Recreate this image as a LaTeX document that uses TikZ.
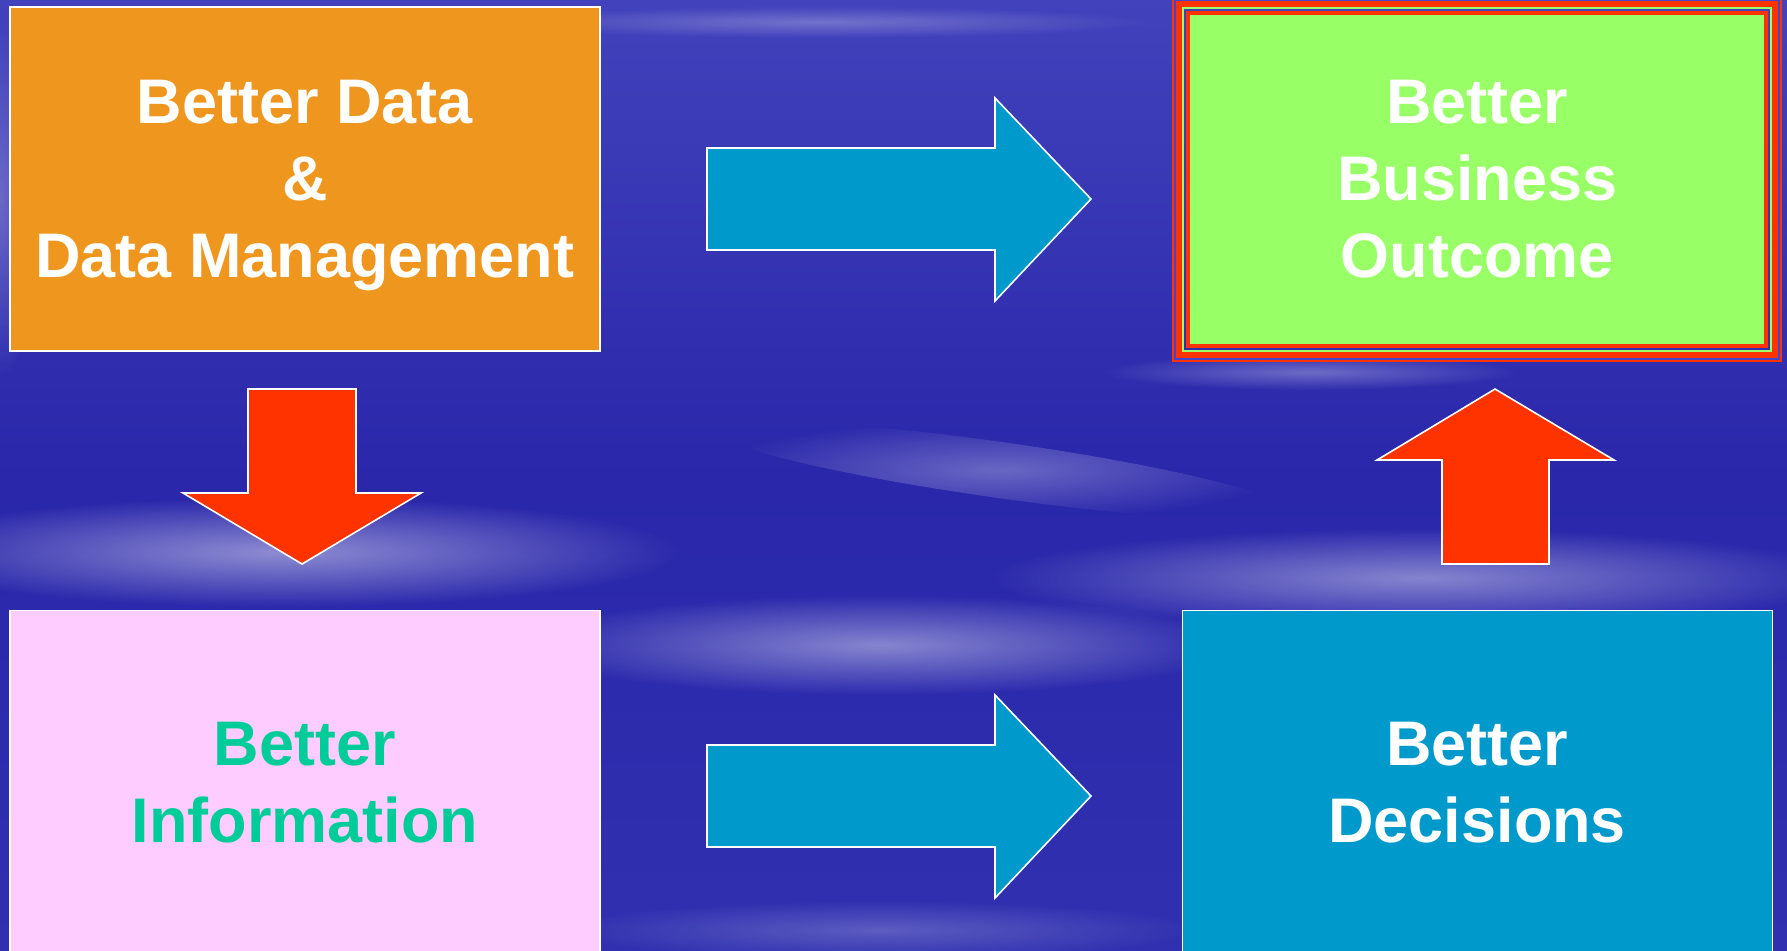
\documentclass[tikz,border=0pt]{standalone}
\usepackage{fontspec}
\setmainfont{Liberation Sans}
\usetikzlibrary{positioning}
\usetikzlibrary{fadings}

\definecolor{skytop}{HTML}{4242BC}
\definecolor{skymid}{HTML}{2A27AA}
\definecolor{skylow}{HTML}{3030B0}
\definecolor{dataorange}{HTML}{EF961F}
\definecolor{infopink}{HTML}{FFCCFF}
\definecolor{infogreen}{HTML}{00CC99}
\definecolor{decideblue}{HTML}{0099CC}
\definecolor{outcomegreen}{HTML}{99FF66}
\definecolor{arrowred}{HTML}{FF3300}
\definecolor{framered}{HTML}{FF3300}
\definecolor{frameblue}{HTML}{4444CC}

\tikzfading[name=cloudfade, inner color=transparent!15, outer color=transparent!100]

\begin{document}
\begin{tikzpicture}[x=0.5pt, y=-0.5pt,
    box/.style={draw=white, line width=0.6pt, minimum width=295pt, minimum height=172pt,
      inner sep=0pt, align=center, text=white,
      font=\fontsize{31.5}{38.5}\selectfont\bfseries},
    redarrow/.style={fill=arrowred, draw=white, line width=0.8pt},
    bluearrow/.style={fill=decideblue, draw=white, line width=0.8pt},
    cloud/.style={fill=white, path fading=cloudfade}]

  \clip (0,0) rectangle (1787,950);

  % sky
  \shade[top color=skytop, bottom color=skylow, middle color=skymid] (0,0) rectangle (1787,950);
  \fill[cloud, fill opacity=0.55] (280,552) ellipse (400 and 55);
  \fill[cloud, fill opacity=0.50] (880,645) ellipse (360 and 50);
  \fill[cloud, fill opacity=0.50] (1420,578) ellipse (430 and 50);
  \fill[cloud, fill opacity=0.35, rotate around={-8:(1000,470)}] (1000,470) ellipse (290 and 28);
  \fill[cloud, fill opacity=0.35] (1310,372) ellipse (210 and 18);
  \fill[cloud, fill opacity=0.30] (820,22) ellipse (330 and 16);
  \fill[cloud, fill opacity=0.25] (880,930) ellipse (320 and 30);
  \fill[cloud, fill opacity=0.30] (0,200) ellipse (40 and 180);

  % boxes
  \node[box, fill=dataorange] (data) at (305,179) {Better Data\\\&\\\smash{Data Management}};
  \node[box, fill=infopink, text=infogreen, below=129pt of data] (info) {Better\\Information};
  \node[box, fill=decideblue, right=290.5pt of info] (decide) {Better\\Decisions};
  \node[box, fill=outcomegreen, draw=framered, line width=2pt, minimum width=289pt,
    minimum height=166.5pt] (outcome) at (decide |- data) {Better\\Business\\Outcome};

  % frame round the outcome
  \draw[outcomegreen, line width=1pt] ([shift={(-3,-3)}]outcome.north west) rectangle ([shift={(3,3)}]outcome.south east);
  \draw[framered, line width=3pt] ([shift={(-7,-7)}]outcome.north west) rectangle ([shift={(7,7)}]outcome.south east);
  \draw[frameblue, line width=1pt] ([shift={(-11,-11)}]outcome.north west) rectangle ([shift={(11,11)}]outcome.south east);
  \draw[framered, line width=1pt] ([shift={(-13,-13)}]outcome.north west) rectangle ([shift={(13,13)}]outcome.south east);

  % arrows
  \foreach \dy in {0,597}
    \draw[bluearrow, shift={(0,\dy)}] (707,148) -- (995,148) -- (995,98) -- (1091,199)
      -- (995,301) -- (995,250) -- (707,250) -- cycle;
  \draw[redarrow] (248,389) -- (356,389) -- (356,493) -- (421,493) -- (302,564)
    -- (183,493) -- (248,493) -- cycle;
  \draw[redarrow] (1442,564) -- (1549,564) -- (1549,460) -- (1614,460) -- (1495,389)
    -- (1377,460) -- (1442,460) -- cycle;
\end{tikzpicture}
\end{document}
